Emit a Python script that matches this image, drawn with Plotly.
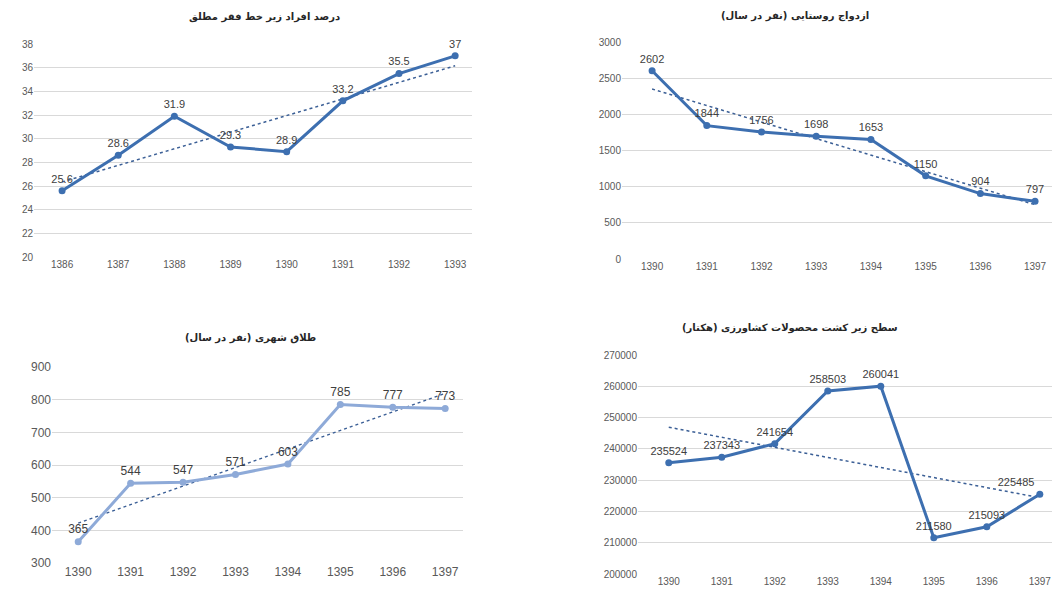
"""Four small trend charts (Persian titles) with linear trendlines."""

import numpy as np
import plotly.graph_objects as go

W, H = 1056, 596

# data
years_poverty = [1386, 1387, 1388, 1389, 1390, 1391, 1392, 1393]
poverty_pct = [25.6, 28.6, 31.9, 29.3, 28.9, 33.2, 35.5, 37]

years = [1390, 1391, 1392, 1393, 1394, 1395, 1396, 1397]
rural_marriage = [2602, 1844, 1756, 1698, 1653, 1150, 904, 797]
urban_divorce = [365, 544, 547, 571, 603, 785, 777, 773]
farm_area = [235524, 237343, 241654, 258503, 260041, 211580, 215093, 225485]

titles = [
    "درصد افراد زیر خط فقر مطلق",
    "ازدواج روستایی (نفر در سال)",
    "طلاق شهری (نفر در سال)",
    "سطح زیر کشت محصولات کشاورزی (هکتار)",
]

BLUE = "#3d6fb0"
LIGHT_BLUE = "#8eaad8"
GRID = "#d9d9d9"
TICK = "#595959"


def px_x(a, b):
    return [a / W, b / W]


def px_y(top, bottom):
    return [1 - bottom / H, 1 - top / H]


# (x values, y values, x pixel span, y pixel span, x range, y range, dtick, colour, label size, tick size, title pos)
panels = [
    (years_poverty, poverty_pct, (34, 472), (44, 257), [1385.5, 1393.3], [20, 38], 2,
     BLUE, 11, 10, (264, 17)),
    (years, rural_marriage, (622, 1052), (42, 259), [1389.45, 1397.31], [0, 3000], 500,
     BLUE, 11, 10, (795, 16)),
    (years, urban_divorce, (52, 463), (367, 563), [1389.5, 1397.34], [300, 900], 100,
     LIGHT_BLUE, 12, 12, (250, 338)),
    (years, farm_area, (638, 1052), (355, 574), [1389.42, 1397.23], [200000, 270000], 10000,
     BLUE, 11, 10, (790, 328)),
]

fig = go.Figure()
annotations = []

for i, (xs, ys, xspan, yspan, xr, yr, dt, col, lsize, tsize, tpos) in enumerate(panels):
    n = "" if i == 0 else str(i + 1)
    xa, ya = "x" + n, "y" + n

    # linear trendline
    k, c = np.polyfit(xs, ys, 1)
    trend = [k * x + c for x in xs]
    fig.add_trace(go.Scatter(
        x=xs, y=trend, mode="lines", xaxis=xa, yaxis=ya,
        line=dict(color="#3b5f96", width=1.5, dash="dot"),
        hoverinfo="skip", showlegend=False,
    ))

    # last label on the farm chart is nudged left so it stays on the page
    positions = ["top center"] * len(ys)
    if i == 3:
        positions[-1] = "top left"

    fig.add_trace(go.Scatter(
        x=xs, y=ys, mode="lines+markers+text", xaxis=xa, yaxis=ya,
        line=dict(color=col, width=3),
        marker=dict(color=col, size=7),
        text=[f"{v:g}" for v in ys],
        textposition=positions,
        textfont=dict(family="Liberation Sans", size=lsize, color="#404040"),
        cliponaxis=False,
        showlegend=False,
    ))

    fig.layout["xaxis" + n] = dict(
        domain=px_x(*xspan), range=xr, anchor=ya,
        tickvals=xs, ticktext=[str(x) for x in xs],
        showgrid=False, zeroline=False, showline=False, automargin=False,
        tickfont=dict(family="Liberation Sans", size=tsize, color=TICK),
    )
    fig.layout["yaxis" + n] = dict(
        domain=px_y(*yspan), range=yr, anchor=xa, dtick=dt, tickformat="d",
        showgrid=True, gridcolor=GRID, gridwidth=1, automargin=False,
        zeroline=False, showline=False, ticklen=0,
        tickfont=dict(family="Liberation Sans", size=tsize, color=TICK),
    )

    annotations.append(dict(
        x=tpos[0] / W, y=1 - tpos[1] / H, xref="paper", yref="paper",
        xanchor="center", yanchor="middle",
        text="<b>" + titles[i] + "</b>", showarrow=False,
        font=dict(family="DejaVu Sans", size=10, color="#262626"),
    ))

fig.update_layout(
    width=W, height=H,
    margin=dict(l=0, r=0, t=0, b=0, autoexpand=False),
    paper_bgcolor="white", plot_bgcolor="white",
    annotations=annotations,
)

# drop the default page margin so the figure sits at the window's corner
fig.write_html(
    "out.html",
    config={"displayModeBar": False},
    post_script="document.body.style.margin='0'; document.body.style.overflow='hidden';",
)
